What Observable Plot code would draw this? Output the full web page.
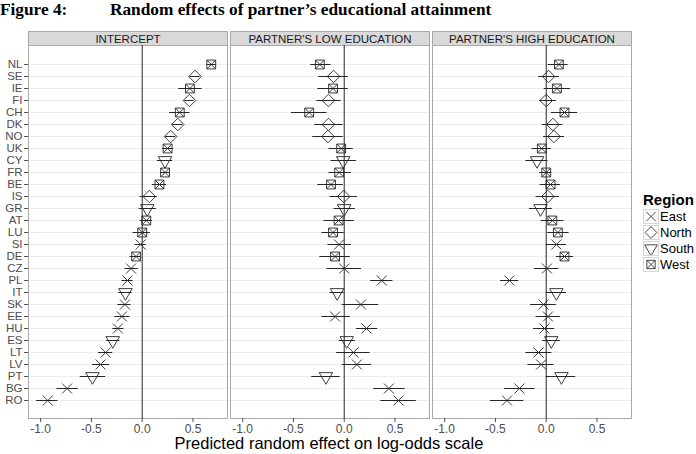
<!DOCTYPE html>
<html>
<head>
<meta charset="utf-8">
<script src="https://cdn.jsdelivr.net/npm/d3@7"></script>
<script src="https://cdn.jsdelivr.net/npm/@observablehq/plot@0.6"></script>
<style>
  html, body { margin: 0; padding: 0; background: white; }
  #wrap { position: relative; width: 696px; height: 454px; overflow: hidden; }
  #wrap > svg { position: absolute; left: 0; top: 0; }
  .title { position: absolute; font-family: "Liberation Serif", "Times New Roman", serif; font-weight: bold; font-size: 17.3px; line-height: 17.3px; white-space: nowrap; color: #000; }
  .xlab { position: absolute; left: 0; width: 658px; text-align: center; font-family: "Liberation Sans", Arial, sans-serif; font-size: 16.5px; line-height: 16.5px; color: #000; }
  .legtitle { position: absolute; left: 643px; top: 192px; font-family: "Liberation Sans", Arial, sans-serif; font-weight: bold; font-size: 15px; line-height: 15px; color: #000; }
  #leg { position: absolute; left: 643px; top: 209px; }
  .reg-swatch > svg { outline: 1px solid #d6d6d6; outline-offset: -1px; margin-right: 1px !important; }
</style>
</head>
<body>
<div id="wrap">
  <div class="title" style="left:0px; top:1px;">Figure 4:</div>
  <div class="title" style="left:110px; top:1px;">Random effects of partner’s educational attainment</div>
  <div class="xlab" style="top:435px;">Predicted random effect on log-odds scale</div>
  <div class="legtitle">Region</div>
  <div id="leg"></div>
</div>
<script>
const countries = ["NL","SE","IE","FI","CH","DK","NO","UK","CY","FR","BE","IS","GR","AT","LU","SI","DE","CZ","PL","IT","SK","EE","HU","ES","LT","LV","PT","BG","RO"];
const regionOf = ["West","North","West","North","West","North","North","West","South","West","West","North","South","West","West","East","West","East","East","South","East","East","East","South","East","East","South","East","East"];
const regionNames = ["East","North","South","West"];
const panels = ["INTERCEPT","PARTNER'S LOW EDUCATION","PARTNER'S HIGH EDUCATION"];
const xTicks = [-1.0, -0.5, 0.0, 0.5];

const interceptEst = [0.68,0.52,0.47,0.465,0.37,0.35,0.28,0.25,0.225,0.225,0.17,0.07,0.05,0.04,0.0,-0.015,-0.06,-0.11,-0.145,-0.165,-0.17,-0.20,-0.24,-0.29,-0.36,-0.41,-0.49,-0.74,-0.93];
const interceptLo  = [0.64,0.47,0.36,0.42,0.27,0.30,0.23,0.20,0.15,0.18,0.10,-0.02,-0.03,-0.02,-0.09,-0.07,-0.12,-0.17,-0.20,-0.23,-0.24,-0.27,-0.29,-0.35,-0.43,-0.49,-0.61,-0.84,-1.04];
const interceptHi  = [0.73,0.57,0.59,0.51,0.47,0.40,0.33,0.31,0.30,0.27,0.24,0.15,0.14,0.10,0.08,0.04,-0.01,-0.04,-0.09,-0.10,-0.11,-0.12,-0.18,-0.22,-0.29,-0.32,-0.36,-0.63,-0.83];

const lowEst = [-0.24,-0.105,-0.11,-0.155,-0.345,-0.155,-0.16,-0.03,-0.01,-0.05,-0.13,-0.005,0.0,-0.055,-0.11,-0.05,-0.09,0.0,0.37,-0.07,0.165,-0.09,0.22,0.025,0.09,0.125,-0.18,0.44,0.535];
const lowLo  = [-0.33,-0.25,-0.26,-0.27,-0.52,-0.29,-0.31,-0.15,-0.13,-0.15,-0.26,-0.14,-0.10,-0.20,-0.22,-0.16,-0.24,-0.17,0.26,-0.14,-0.02,-0.22,0.12,-0.05,-0.075,-0.02,-0.32,0.29,0.36];
const lowHi  = [-0.13,0.04,0.04,-0.03,-0.17,-0.01,-0.01,0.09,0.12,0.07,-0.01,0.13,0.11,0.10,0.0,0.07,0.06,0.17,0.48,0.0,0.34,0.06,0.33,0.11,0.255,0.27,-0.04,0.60,0.71];

const highEst = [0.125,0.023,0.105,0.0,0.18,0.066,0.076,-0.043,-0.09,0.0,0.043,0.016,-0.056,0.06,0.115,0.10,0.18,0.007,-0.363,0.10,-0.026,0.017,-0.017,0.05,-0.076,-0.05,0.15,-0.264,-0.386];
const highLo  = [0.02,-0.075,-0.02,-0.065,0.05,-0.04,-0.026,-0.14,-0.20,-0.066,-0.06,-0.10,-0.165,-0.05,0.016,0.0,0.10,-0.115,-0.45,0.0,-0.155,-0.10,-0.125,-0.033,-0.20,-0.18,0.0,-0.41,-0.55];
const highHi  = [0.215,0.13,0.24,0.10,0.31,0.165,0.18,0.05,0.017,0.056,0.14,0.13,0.06,0.175,0.225,0.20,0.27,0.125,-0.27,0.20,0.10,0.14,0.083,0.14,0.056,0.076,0.29,-0.11,-0.22];

const series = [
  [interceptEst, interceptLo, interceptHi],
  [lowEst, lowLo, lowHi],
  [highEst, highLo, highHi]
];
const data = [];
panels.forEach((p, k) => {
  const [e, lo, hi] = series[k];
  countries.forEach((c, i) => data.push({panel: p, country: c, region: regionOf[i], est: e[i], lo: lo[i], hi: hi[i]}));
});

// R-like point symbols (hollow)
const timesSym = {draw(ctx, size) { const R = Math.sqrt(size / Math.PI); ctx.moveTo(-R, -R); ctx.lineTo(R, R); ctx.moveTo(R, -R); ctx.lineTo(-R, R); }};
const diamondSym = {draw(ctx, size) { const R = Math.sqrt(size / Math.PI) * 1.2533; ctx.moveTo(0, -R); ctx.lineTo(R, 0); ctx.lineTo(0, R); ctx.lineTo(-R, 0); ctx.closePath(); }};
const triDownSym = {draw(ctx, size) { const R = Math.sqrt(size / Math.PI); const r = 1.5551 * R, xc = 1.3468 * R, yc = 0.7776 * R; ctx.moveTo(0, r); ctx.lineTo(xc, -yc); ctx.lineTo(-xc, -yc); ctx.closePath(); }};
const boxTimesSym = {draw(ctx, size) { const s = Math.sqrt(size / Math.PI) * 0.8862; ctx.moveTo(-s, -s); ctx.lineTo(s, -s); ctx.lineTo(s, s); ctx.lineTo(-s, s); ctx.closePath(); ctx.moveTo(-s, -s); ctx.lineTo(s, s); ctx.moveTo(s, -s); ctx.lineTo(-s, s); }};

const W = 696, H = 454, MT = 45, MB = 36;
const panelH = H - MT - MB;
const ink = "#262626";

const chart = Plot.plot({
  width: W, height: H,
  marginTop: MT, marginBottom: MB, marginLeft: 27, marginRight: 65,
  style: {fontFamily: "'Liberation Sans', Arial, sans-serif", fontSize: "12px", background: "transparent", overflow: "visible"},
  fx: {domain: panels, paddingInner: 0.015, paddingOuter: 0, label: null},
  x: {domain: [-1.12, 0.84], label: null},
  y: {domain: countries, type: "point", padding: 0.6, label: null},
  symbol: {domain: regionNames, range: [timesSym, diamondSym, triDownSym, boxTimesSym]},
  marks: [
    Plot.frame({fill: "#d9d9d9", stroke: "#a9a9a9", insetTop: -14, insetBottom: panelH}),
    Plot.axisFx({anchor: "top", label: null, tickSize: 0, tickPadding: 2.5, fontSize: 11.5, fill: "#1a1a1a"}),
    Plot.frame({fill: "white"}),
    Plot.gridY({stroke: "#ececec", strokeOpacity: 1, strokeWidth: 1}),
    Plot.frame({stroke: "#a9a9a9"}),
    Plot.ruleX([0], {stroke: ink, strokeWidth: 1}),
    Plot.ruleY(data, {fx: "panel", y: "country", x1: "lo", x2: "hi", stroke: ink, strokeWidth: 1}),
    Plot.dot(data, {fx: "panel", x: "est", y: "country", symbol: "region", r: 5, stroke: ink, fill: "none", strokeWidth: 0.9}),
    Plot.axisY({tickSize: 4, tickPadding: 2, fill: "#4d4d4d", stroke: "#4d4d4d", fontSize: 11.5}),
    Plot.axisX({ticks: xTicks, tickFormat: d => d.toFixed(1), tickSize: 4, tickPadding: 1.5, fill: "#4d4d4d", stroke: "#4d4d4d", fontSize: 12})
  ]
});
document.getElementById("wrap").insertBefore(chart, document.getElementById("wrap").firstChild);

const leg = chart.legend("symbol", {
  columns: 1, swatchWidth: 16, swatchHeight: 15, r: 5, className: "reg",
  stroke: ink, fill: "none", strokeWidth: 0.9,
  style: {fontFamily: "'Liberation Sans', Arial, sans-serif", fontSize: "13px", color: "#000", margin: 0}
});
document.getElementById("leg").appendChild(leg);
</script>
</body>
</html>
